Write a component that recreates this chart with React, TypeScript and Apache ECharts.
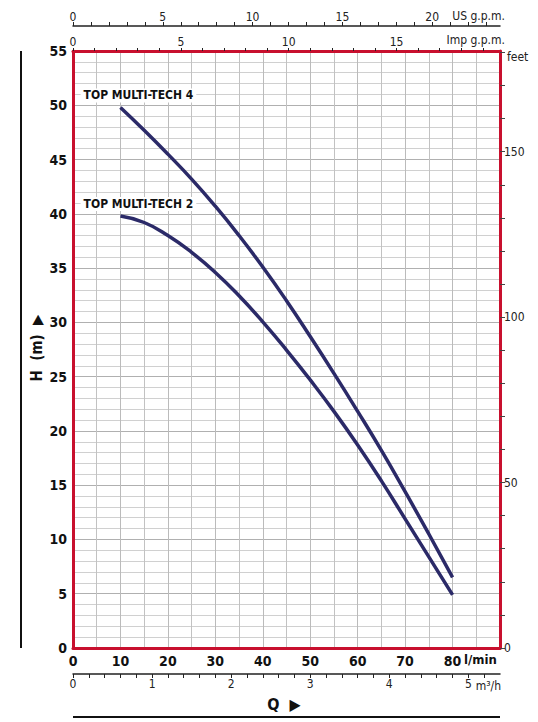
import React, { useEffect, useRef } from 'react';
import * as echarts from 'echarts';

// flow rate in l/min and head in metres
const flow = [10, 15, 20, 25, 30, 35, 40, 45, 50, 55, 60, 65, 70, 75, 80];
const headTmt4 = [49.8, 47.7, 45.5, 43.2, 40.7, 38.0, 35.1, 32.0, 28.7, 25.3, 21.8, 18.2, 14.4, 10.5, 6.5];
const headTmt2 = [39.8, 39.2, 38.0, 36.45, 34.6, 32.45, 30.05, 27.45, 24.7, 21.8, 18.7, 15.4, 11.9, 8.4, 4.9];
const seriesNames = ['TOP MULTI-TECH 4', 'TOP MULTI-TECH 2'];

const Q_MAX = 90; // l/min
const H_MAX = 55; // m
const L_PER_US_GAL = 3.785411784;
const L_PER_IMP_GAL = 4.54609;
const LMIN_PER_M3H = 1000 / 60;
const M_PER_FOOT = 0.3048;

const FONT = "'Liberation Sans Narrow', 'DejaVu Sans Condensed', 'Noto Sans', sans-serif";
const RED = '#c8102e';
const CURVE = '#2b2a68';

const App: React.FC = () => {
	const chartRef = useRef<HTMLDivElement | null>(null);

	useEffect(() => {
		document.body.style.margin = '0';
		if (!chartRef.current) return;
		const chart = echarts.init(chartRef.current, undefined, { renderer: 'svg' });

		const everyFive = (v: number) => (Math.abs(v % 5) < 1e-6 ? String(Math.round(v)) : '');
		const wholeOnly = (v: number) => (Math.abs(v - Math.round(v)) < 1e-6 ? String(Math.round(v)) : '');

		const curve = (name: string, head: number[]) => ({
			name,
			type: 'line',
			xAxisIndex: 0,
			yAxisIndex: 0,
			data: flow.map((q, i) => [q, head[i]]),
			smooth: 0.5,
			symbol: 'none',
			lineStyle: { color: CURVE, width: 3.5 },
			z: 5,
			markPoint: {
				symbol: 'circle',
				symbolSize: 0,
				data: [{ coord: [flow[0], head[0]] }],
				label: {
					show: true,
					position: 'inside',
					offset: [18, -12],
					formatter: name,
					fontFamily: FONT,
					fontWeight: 'bold',
					fontSize: 12,
					color: '#111',
					backgroundColor: '#fff',
					padding: [1, 3],
				},
			},
		});

		const option: any = {
			animation: false,
			grid: [
				{ left: 73, right: 38, top: 51, bottom: 74 },
				{ left: 73, right: 38, top: 26, height: 1 },
				{ left: 73, right: 38, top: 673, height: 1 },
			],
			xAxis: [
				{
					type: 'value',
					gridIndex: 0,
					position: 'bottom',
					min: 0,
					max: Q_MAX,
					interval: 10,
					axisLine: { onZero: false, lineStyle: { color: RED, width: 3 } },
					axisTick: { show: false },
					minorTick: { show: false, splitNumber: 2 },
					axisLabel: {
						margin: 6,
						fontFamily: FONT,
						fontWeight: 'bold',
						fontSize: 14,
						color: '#111',
						formatter: (v: number) => (v >= Q_MAX ? '' : String(v)),
					},
					splitLine: { show: true, lineStyle: { color: '#bbbbbb', width: 1 } },
					minorSplitLine: { show: true, lineStyle: { color: '#c2c2c2', width: 1 } },
				},
				{
					type: 'value',
					gridIndex: 0,
					position: 'top',
					min: 0,
					max: Q_MAX / L_PER_IMP_GAL,
					interval: 1,
					axisLine: { onZero: false, lineStyle: { color: RED, width: 3 } },
					axisTick: { show: true, length: 3, lineStyle: { color: '#222', width: 1 } },
					axisLabel: { margin: 3, fontFamily: FONT, fontSize: 12, color: '#222', formatter: everyFive, showMaxLabel: false },
					splitLine: { show: false },
				},
				{
					type: 'value',
					gridIndex: 1,
					position: 'top',
					min: 0,
					max: Q_MAX / L_PER_US_GAL,
					interval: 1,
					axisLine: { onZero: false, lineStyle: { color: '#222', width: 1.5 } },
					axisTick: { show: true, length: 4, lineStyle: { color: '#222', width: 1 } },
					axisLabel: { margin: 3, fontFamily: FONT, fontSize: 12, color: '#222', formatter: everyFive, showMaxLabel: false },
					splitLine: { show: false },
				},
				{
					type: 'value',
					gridIndex: 2,
					position: 'bottom',
					min: 0,
					max: Q_MAX / LMIN_PER_M3H,
					interval: 0.2,
					axisLine: { onZero: false, lineStyle: { color: '#222', width: 1.5 } },
					axisTick: { show: true, length: 4, lineStyle: { color: '#222', width: 1 } },
					axisLabel: { margin: 4, fontFamily: FONT, fontSize: 12, color: '#222', formatter: wholeOnly, showMaxLabel: false },
					splitLine: { show: false },
				},
			],
			yAxis: [
				{
					type: 'value',
					gridIndex: 0,
					position: 'left',
					min: 0,
					max: H_MAX,
					interval: 5,
					axisLine: { show: true, onZero: false, lineStyle: { color: RED, width: 3 } },
					axisTick: { show: false },
					minorTick: { show: false, splitNumber: 5 },
					axisLabel: { margin: 6, fontFamily: FONT, fontWeight: 'bold', fontSize: 14, color: '#111' },
					splitLine: { show: true, lineStyle: { color: '#b0b0b0', width: 1 } },
					minorSplitLine: { show: true, lineStyle: { color: '#d0d0d0', width: 1 } },
				},
				{
					type: 'value',
					gridIndex: 0,
					position: 'right',
					min: 0,
					max: H_MAX / M_PER_FOOT,
					interval: 10,
					axisLine: { show: true, onZero: false, lineStyle: { color: RED, width: 3 } },
					axisTick: { show: true, length: 5, lineStyle: { color: '#444', width: 1 } },
					axisLabel: {
						margin: 4,
						fontFamily: FONT,
						fontSize: 12,
						color: '#222',
						formatter: (v: number) => (v % 50 === 0 ? String(v) : ''),
						showMaxLabel: false,
					},
					splitLine: { show: false },
				},
				{ type: 'value', gridIndex: 1, show: false },
				{ type: 'value', gridIndex: 2, show: false },
			],
			series: [curve(seriesNames[0], headTmt4), curve(seriesNames[1], headTmt2)],
			graphic: [
				{ type: 'text', x: 505, y: 16, style: { text: 'US g.p.m.', fontFamily: FONT, fontSize: 12, fill: '#222', align: 'right', verticalAlign: 'middle' } },
				{ type: 'text', x: 505, y: 40, style: { text: 'Imp g.p.m.', fontFamily: FONT, fontSize: 12, fill: '#222', align: 'right', verticalAlign: 'middle' } },
				{ type: 'text', x: 507, y: 57, style: { text: 'feet', fontFamily: FONT, fontSize: 12, fill: '#222', align: 'left', verticalAlign: 'middle' } },
				{ type: 'text', x: 464, y: 659, style: { text: 'l/min', fontFamily: FONT, fontWeight: 'bold', fontSize: 13, fill: '#111', align: 'left', verticalAlign: 'middle' } },
				{ type: 'text', x: 501, y: 686, style: { text: 'm³/h', fontFamily: FONT, fontSize: 12, fill: '#222', align: 'right', verticalAlign: 'middle' } },
				{
					type: 'text',
					x: 37,
					y: 348,
					rotation: Math.PI / 2,
					style: { text: 'H  (m)  ▶', fontFamily: FONT, fontWeight: 'bold', fontSize: 15, fill: '#111', align: 'center', verticalAlign: 'middle' },
				},
				{ type: 'text', x: 284, y: 704, style: { text: 'Q  ▶', fontFamily: FONT, fontWeight: 'bold', fontSize: 16, fill: '#111', align: 'center', verticalAlign: 'middle' } },
				{ type: 'line', shape: { x1: 21, y1: 51, x2: 21, y2: 648 }, style: { stroke: '#111', lineWidth: 2 } },
				{ type: 'line', shape: { x1: 73, y1: 717, x2: 500, y2: 717 }, style: { stroke: '#111', lineWidth: 2 } },
			],
		};

		chart.setOption(option);
		return () => {
			chart.dispose();
		};
	}, []);

	return <div ref={chartRef} style={{ width: '538px', height: '722px' }} />;
};

export default App;
